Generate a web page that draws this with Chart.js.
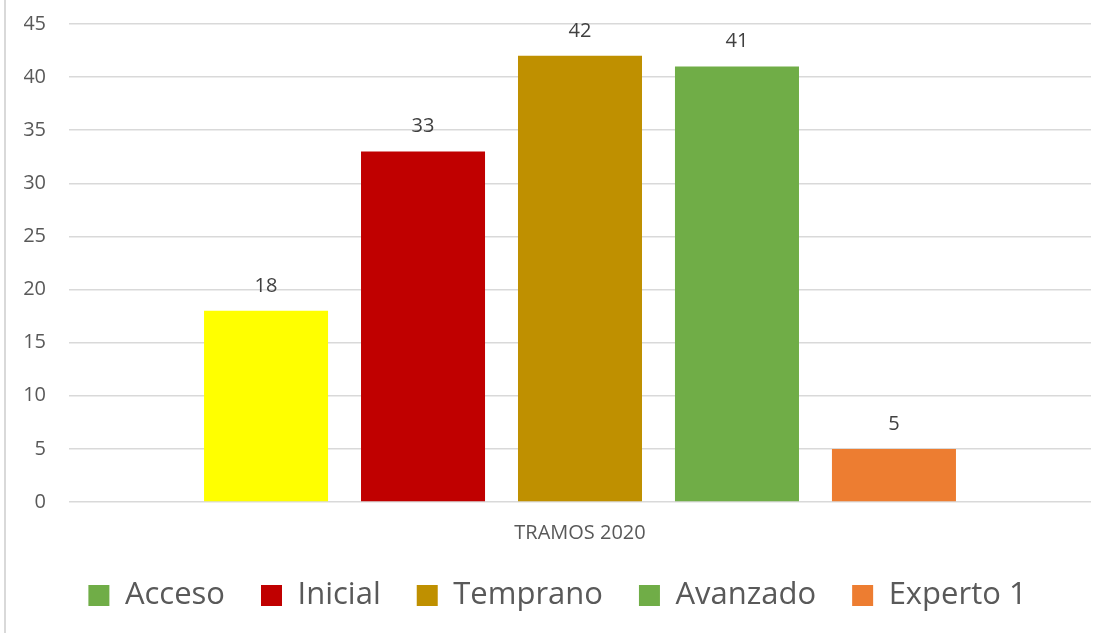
<!DOCTYPE html>
<html>
<head>
<meta charset="utf-8">
<script src="https://cdn.jsdelivr.net/npm/chart.js@4/dist/chart.umd.min.js"></script>
<style>
  html, body { margin: 0; padding: 0; background: #fff; }
  #wrap { position: relative; width: 1108px; height: 633px; }
  #edge { position: absolute; left: 4px; top: 0; width: 2px; height: 633px; background: #d9d9d9; }
</style>
</head>
<body>
<div id="wrap">
  <div id="edge"></div>
  <canvas id="chart" width="1108" height="633"></canvas>
</div>
<script>
const categories = ["TRAMOS 2020"];
const seriesNames = ["Acceso", "Inicial", "Temprano", "Avanzado", "Experto 1"];
const seriesValues = [18, 33, 42, 41, 5];
const barColors = ["#FFFF00", "#C00000", "#BF9000", "#70AD47", "#ED7D31"];
const legendColors = ["#70AD47", "#C00000", "#BF9000", "#70AD47", "#ED7D31"];
const yTicks = [0, 5, 10, 15, 20, 25, 30, 35, 40, 45];

const textColor = "#595959";
const fontFamily = "'Open Sans', 'Noto Sans', sans-serif";

// value labels above each bar
const valueLabels = {
  id: "valueLabels",
  afterDatasetsDraw(chart) {
    const ctx = chart.ctx;
    ctx.save();
    ctx.font = "20px " + fontFamily;
    ctx.fillStyle = "#404040";
    ctx.textAlign = "center";
    ctx.textBaseline = "middle";
    chart.data.datasets.forEach((ds, i) => {
      chart.getDatasetMeta(i).data.forEach((bar, j) => {
        ctx.fillText(ds.data[j], bar.x, bar.y - 25);
      });
    });
    ctx.restore();
  }
};

const chart = new Chart(document.getElementById("chart").getContext("2d"), {
  type: "bar",
  data: {
    labels: categories,
    datasets: seriesNames.map((name, i) => ({
      label: name,
      data: [seriesValues[i]],
      backgroundColor: barColors[i],
      borderWidth: 0,
      categoryPercentage: 0.768,
      barPercentage: 0.79
    }))
  },
  options: {
    responsive: false,
    animation: false,
    layout: { padding: { top: 24, right: 17, left: 24, bottom: 12 } },
    plugins: {
      tooltip: { enabled: false },
      legend: {
        position: "bottom",
        labels: {
          boxWidth: 21,
          boxHeight: 21,
          padding: 36,
          color: textColor,
          font: { family: fontFamily, size: 31 },
          generateLabels(chart) {
            return chart.data.datasets.map((ds, i) => ({
              text: ds.label,
              fillStyle: legendColors[i],
              strokeStyle: legendColors[i],
              lineWidth: 0,
              fontColor: textColor,
              datasetIndex: i,
              hidden: false
            }));
          }
        }
      }
    },
    scales: {
      x: {
        grid: { display: false, drawTicks: false },
        border: { display: false },
        ticks: { color: textColor, font: { family: fontFamily, size: 20 }, padding: 19 },
        afterFit(scale) { scale.height = 42; }
      },
      y: {
        min: 0,
        max: 45,
        afterBuildTicks(scale) { scale.ticks = yTicks.map(v => ({ value: v })); },
        grid: { color: "#d9d9d9", lineWidth: 1.5, drawTicks: false },
        border: { display: false },
        ticks: { color: textColor, font: { family: fontFamily, size: 20 }, padding: 23 },
        afterFit(scale) {
          scale.width = 45;
          scale.paddingTop = 0;
          scale.paddingBottom = 0;
        }
      }
    }
  },
  plugins: [valueLabels]
});
</script>
</body>
</html>
